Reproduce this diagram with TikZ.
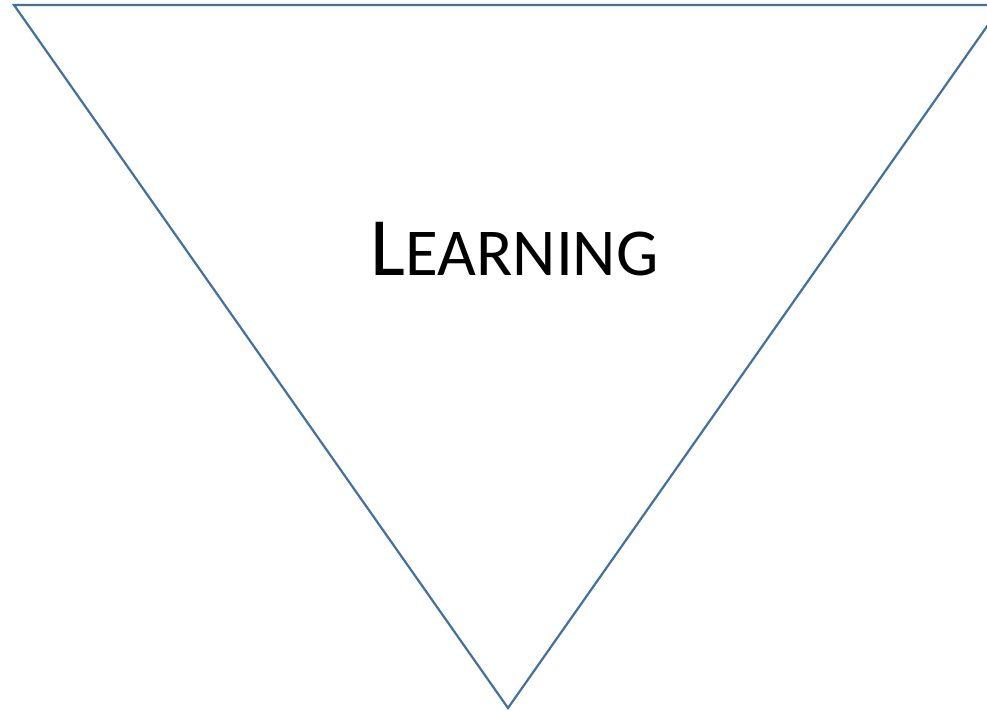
\documentclass[tikz,border=0pt]{standalone}
\usepackage{fontspec}
\setmainfont{Carlito}
\definecolor{funnelBlue}{HTML}{41719C}

\begin{document}
\begin{tikzpicture}[x=1pt,y=-1pt]
  \useasboundingbox (0,0) rectangle (987,711);
  \clip (0,0) rectangle (987,711);
  % inverted triangle
  \draw[funnelBlue,line width=2.2pt,line join=miter] (14,5) -- (1002,5) -- (508,708) -- cycle;
  \node[anchor=base,inner sep=0pt] (learning) at (514.5,275)
    {\fontsize{83}{90}\selectfont L\fontsize{67}{72}\selectfont EARNING};
\end{tikzpicture}
\end{document}
